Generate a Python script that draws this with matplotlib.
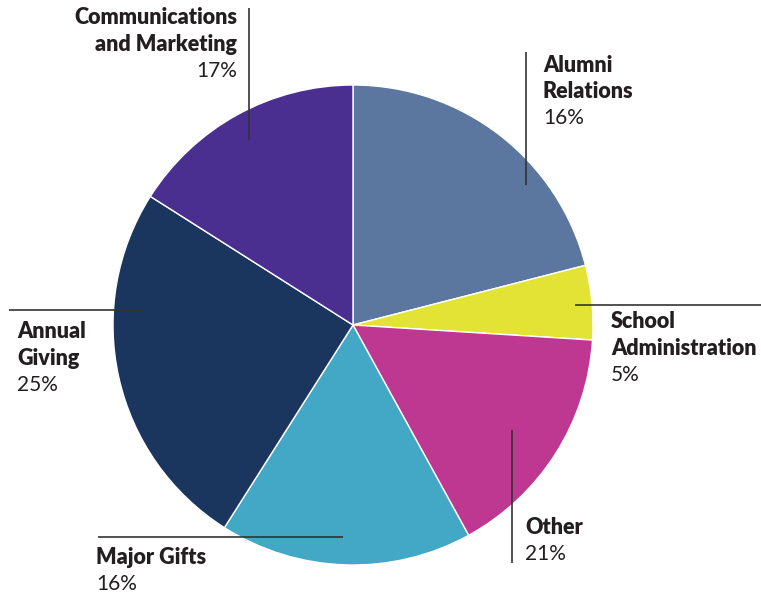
import matplotlib
matplotlib.use("Agg")
import matplotlib.pyplot as plt

# slice sizes as drawn (clockwise from 12 o'clock)
categories = ["Alumni\nRelations", "School\nAdministration", "Other",
              "Major Gifts", "Annual\nGiving", "Communications\nand Marketing"]
slice_values = [21, 5, 16, 17, 25, 16]
# percentages as printed on the chart labels
pct_text = ["16%", "5%", "21%", "16%", "25%", "17%"]
colors = ["#5B77A0", "#E3E336", "#BE3790", "#42A8C6", "#1A365E", "#4A2F90"]

W, H = 761, 598


def py(y):
    # pixel row (from top) -> data y
    return H - y


fig = plt.figure(figsize=(W / 100, H / 100), dpi=100)
ax = fig.add_axes([0, 0, 1, 1])
ax.set_xlim(0, W)
ax.set_ylim(0, H)
ax.set_aspect("equal")
ax.axis("off")

ax.pie(slice_values, colors=colors, startangle=90, counterclock=False,
       center=(353, py(325)), radius=240,
       wedgeprops=dict(edgecolor="white", linewidth=1.0))
ax.set_xlim(0, W)
ax.set_ylim(0, H)

# leader lines: (x0, y0, x1, y1) in pixels
leaders = [(526, 52, 526, 185), (575, 305, 761, 305), (512, 430, 512, 563),
           (98, 537, 343, 537), (9, 310, 143, 310), (249, 8, 249, 140)]
# label anchor: (x, first line y, ha)
anchors = [(543, 65, "left"), (611, 322, "left"), (525, 528, "left"),
           (96, 558, "left"), (17, 332, "left"), (237, 18, "right")]
step = 26.5

font = "Lato"
for name, pct, (x, y, ha), (x0, y0, x1, y1) in zip(categories, pct_text, anchors, leaders):
    ax.plot([x0, x1], [py(y0), py(y1)], color="#333333", lw=1.2, solid_capstyle="butt")
    lines = name.split("\n")
    for i, ln in enumerate(lines):
        ax.text(x, py(y + i * step), ln, ha=ha, va="center", fontsize=15.5,
                fontweight="heavy", color="#231f20", family=font)
    ax.text(x, py(y + len(lines) * step), pct, ha=ha, va="center", fontsize=15,
            color="#231f20", family=font)

fig.savefig("out.png", dpi=100)
